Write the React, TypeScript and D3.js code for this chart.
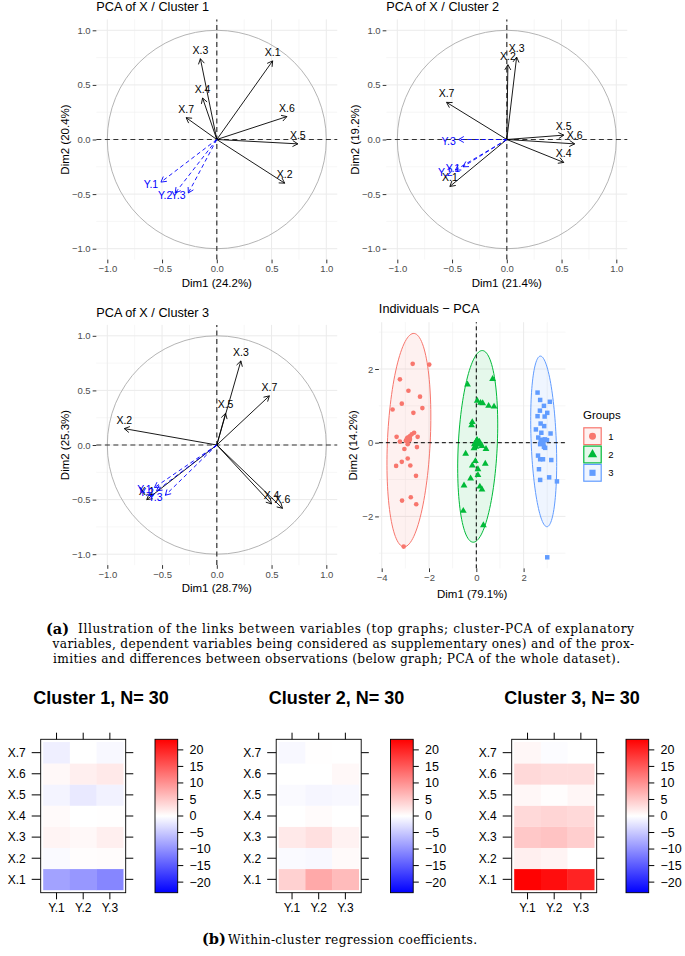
import React, { useEffect, useRef } from 'react';
import * as d3 from 'd3';

const W = 685;
const H = 956;
const SANS = 'Liberation Sans, Arial, Helvetica, sans-serif';
const SERIF = 'DejaVu Serif, Liberation Serif, serif';

const groupColors = ['#F8766D', '#00BA38', '#619CFF'];
const groupLabels = ['1', '2', '3'];

// variable loadings read from the correlation circles
const cluster1Active = [
  { name: 'X.1', x: 0.51, y: 0.72 },
  { name: 'X.2', x: 0.62, y: -0.4 },
  { name: 'X.3', x: -0.15, y: 0.74 },
  { name: 'X.4', x: -0.13, y: 0.38 },
  { name: 'X.5', x: 0.74, y: -0.04 },
  { name: 'X.6', x: 0.64, y: 0.21 },
  { name: 'X.7', x: -0.28, y: 0.2 },
];
const cluster1Sup = [
  { name: 'Y.1', x: -0.51, y: -0.39 },
  { name: 'Y.2', x: -0.38, y: -0.49 },
  { name: 'Y.3', x: -0.26, y: -0.49 },
];
const cluster2Active = [
  { name: 'X.1', x: -0.52, y: -0.43 },
  { name: 'X.2', x: 0.01, y: 0.685 },
  { name: 'X.3', x: 0.09, y: 0.755 },
  { name: 'X.4', x: 0.52, y: -0.21 },
  { name: 'X.5', x: 0.52, y: 0.04 },
  { name: 'X.6', x: 0.62, y: -0.04 },
  { name: 'X.7', x: -0.55, y: 0.34 },
];
const cluster2Sup = [
  { name: 'Y.1', x: -0.4, y: -0.25 },
  { name: 'Y.2', x: -0.47, y: -0.28 },
  { name: 'Y.3', x: -0.44, y: 0.0 },
];
const cluster3Active = [
  { name: 'X.1', x: -0.64, y: -0.5 },
  { name: 'X.2', x: -0.845, y: 0.15 },
  { name: 'X.3', x: 0.22, y: 0.77 },
  { name: 'X.4', x: 0.5, y: -0.54 },
  { name: 'X.5', x: 0.08, y: 0.29 },
  { name: 'X.6', x: 0.6, y: -0.58 },
  { name: 'X.7', x: 0.48, y: 0.45 },
];
const cluster3Sup = [
  { name: 'Y.1', x: -0.57, y: -0.39 },
  { name: 'Y.2', x: -0.55, y: -0.42 },
  { name: 'Y.3', x: -0.47, y: -0.46 },
];

const varTicks = [-1, -0.5, 0, 0.5, 1];
const varMinor = [-0.75, -0.25, 0.25, 0.75];

// individuals (Dim1, Dim2)
const group1Points = [
  [-2.69, 2.14], [-1.99, 2.12], [-3.23, 1.72], [-2.87, 1.41], [-2.38, 1.25], [-3.15, 1.06],
  [-2.28, 0.94], [-2.66, 0.81], [-3.54, 0.9], [-3.37, 0.16], [-2.63, 0.27], [-2.73, 0.23],
  [-2.8, 0.18], [-2.87, 0.14], [-2.94, 0.09], [-2.48, 0.16], [-3.23, 0.03], [-2.9, -0.04],
  [-3.04, -0.17], [-2.51, -0.12], [-2.9, -0.43], [-3.15, -0.52], [-3.39, -0.63], [-2.79, -0.62],
  [-2.55, -0.9], [-3.14, -1.57], [-2.77, -1.48], [-2.54, -1.67], [-3.07, -2.82], [-2.98, 0.05],
];
const group2Points = [
  [-0.37, 1.58], [0.69, 1.73], [0.04, 1.14], [0.27, 1.07], [0.52, 1.0], [0.75, 0.98],
  [-0.17, 0.56], [-0.2, 0.47], [0.01, 0.04], [-0.07, -0.04], [0.13, -0.05], [0.24, -0.09],
  [0.41, -0.17], [-0.01, -0.11], [-0.45, -0.3], [-0.04, -0.5], [0.38, -0.57], [-0.17, -0.62],
  [0.07, -0.72], [0.07, -0.88], [-0.24, -0.97], [-0.52, -1.16], [0.15, -1.19], [0.24, -1.27],
  [-0.55, -1.85], [0.3, -2.24], [0.04, 0.07], [0.13, 0.03], [-0.1, -0.15], [0.18, 1.08],
];
const group3Points = [
  [2.59, 1.36], [2.7, 1.16], [3.11, 1.11], [2.86, 1.0], [2.69, 0.87], [3.0, 0.81],
  [2.59, 0.72], [2.89, 0.71], [2.52, 0.36], [2.72, 0.52], [2.87, 0.45], [2.75, 0.27],
  [3.14, 0.25], [2.62, 0.14], [2.9, 0.09], [2.76, 0.0], [2.7, -0.04], [2.91, -0.14],
  [2.61, -0.35], [2.7, -0.45], [2.82, -0.45], [3.17, -0.47], [2.65, -0.72], [3.08, -0.94],
  [2.7, -1.01], [3.41, -1.05], [3.0, -3.11], [2.99, 0.07], [2.86, -0.11], [2.8, 0.08],
];
const groupCentroids = [[-2.87, 0.1], [0.02, 0.0], [2.78, 0.03]];
// ellipse: centre, half major axis vector, half minor axis vector (data units)
const groupEllipses = [
  { c: [-2.85, 0.07], a: [0.225, 2.895], b: [0.9, -0.07] },
  { c: [0.06, -0.1], a: [0.21, 2.6], b: [0.82, -0.066] },
  { c: [2.85, 0.035], a: [-0.145, 2.315], b: [0.53, 0.033] },
];
const indXTicks = [-4, -2, 0, 2];
const indXMinor = [-3, -1, 1, 3];
const indYTicks = [-2, 0, 2];
const indYMinor = [-3, -1, 1, 3];

// within-cluster regression coefficients, rows X.1..X.7, columns Y.1..Y.3
const coefRows = ['X.1', 'X.2', 'X.3', 'X.4', 'X.5', 'X.6', 'X.7'];
const coefCols = ['Y.1', 'Y.2', 'Y.3'];
const cluster1Coef = [
  [-8.5, -9.5, -11], [-0.5, 0.2, 0.3], [1, 0.6, 1.5], [0.5, 0, 0.1],
  [-1, -2, -1.2], [0.6, 1.5, 2], [-1.5, 0, -0.6],
];
const cluster2Coef = [
  [4.2, 7.8, 6.2], [-0.5, -0.6, 0.5], [2, 2.8, 1.2], [0, 0.4, 0],
  [-0.5, -0.8, -0.6], [0, 0, 0.6], [-0.6, 0.1, 0],
];
const cluster3Coef = [
  [23, 22, 20], [1.5, 1, 0], [5, 5.5, 4.5], [3.5, 3.8, 3.5],
  [0.7, 0.2, 0.8], [3.5, 3.1, 3.1], [0.7, -0.3, 0],
];
const coefTitles = ['Cluster 1, N= 30', 'Cluster 2, N= 30', 'Cluster 3, N= 30'];
const keyTicks = [20, 15, 10, 5, 0, -5, -10, -15, -20];

const captionA = [
  'Illustration of the links between variables (top graphs; cluster-PCA of explanatory',
  'variables, dependent variables being considered as supplementary ones) and of the prox-',
  'imities and differences between observations (below graph; PCA of the whole dataset).',
];
const captionB = 'Within-cluster regression coefficients.';

type Sel = d3.Selection<any, unknown, null, undefined>;

function drawArrow(g: Sel, x1: number, y1: number, x2: number, y2: number, color: string, dash?: string) {
  g.append('line')
    .attr('x1', x1).attr('y1', y1).attr('x2', x2).attr('y2', y2)
    .attr('stroke', color).attr('stroke-width', 0.9)
    .attr('stroke-dasharray', dash || null);
  const ang = Math.atan2(y2 - y1, x2 - x1);
  [-1, 1].forEach((s) => {
    const a = ang + Math.PI + (s * Math.PI) / 6;
    g.append('line')
      .attr('x1', x2).attr('y1', y2)
      .attr('x2', x2 + 6 * Math.cos(a)).attr('y2', y2 + 6 * Math.sin(a))
      .attr('stroke', color).attr('stroke-width', 0.9);
  });
}

function styleAxis(ax: Sel, fs: number) {
  ax.select('.domain').remove();
  ax.selectAll('.tick line').attr('stroke', '#333');
  ax.selectAll('.tick text')
    .attr('fill', '#4D4D4D')
    .style('font-size', `${fs}px`)
    .style('font-family', SANS);
}

function drawVarPanel(svg: Sel, dx: number, dy: number, title: string, xLab: string, yLab: string,
  active: typeof cluster1Active, sup: typeof cluster1Sup) {
  const x = d3.scaleLinear().domain([-1, 1]).range([107.3 + dx, 326.3 + dx]);
  const y = d3.scaleLinear().domain([-1, 1]).range([248.7 + dy, 30.3 + dy]);
  const lo = -1.1, hi = 1.1;
  const g = svg.append('g');

  varMinor.forEach((v) => {
    g.append('line').attr('x1', x(v)).attr('x2', x(v)).attr('y1', y(lo)).attr('y2', y(hi))
      .attr('stroke', '#F0F0F0').attr('stroke-width', 0.6);
    g.append('line').attr('x1', x(lo)).attr('x2', x(hi)).attr('y1', y(v)).attr('y2', y(v))
      .attr('stroke', '#F0F0F0').attr('stroke-width', 0.6);
  });
  varTicks.forEach((v) => {
    g.append('line').attr('x1', x(v)).attr('x2', x(v)).attr('y1', y(lo)).attr('y2', y(hi))
      .attr('stroke', '#EBEBEB').attr('stroke-width', 1);
    g.append('line').attr('x1', x(lo)).attr('x2', x(hi)).attr('y1', y(v)).attr('y2', y(v))
      .attr('stroke', '#EBEBEB').attr('stroke-width', 1);
  });

  g.append('ellipse')
    .attr('cx', x(0)).attr('cy', y(0))
    .attr('rx', x(1) - x(0)).attr('ry', y(0) - y(1))
    .attr('fill', 'none').attr('stroke', '#ABABAB').attr('stroke-width', 0.9);

  g.append('line').attr('x1', x(lo)).attr('x2', x(hi)).attr('y1', y(0)).attr('y2', y(0))
    .attr('stroke', '#333').attr('stroke-width', 1.2).attr('stroke-dasharray', '5,3.5');
  g.append('line').attr('x1', x(0)).attr('x2', x(0)).attr('y1', y(lo)).attr('y2', y(hi))
    .attr('stroke', '#333').attr('stroke-width', 1.2).attr('stroke-dasharray', '5,3.5');

  active.forEach((d) => drawArrow(g, x(0), y(0), x(d.x), y(d.y), '#000'));
  active.forEach((d) => {
    g.append('text').attr('x', x(d.x)).attr('y', y(d.y) - 5)
      .attr('text-anchor', 'middle').attr('fill', '#000')
      .style('font-size', '10.5px').style('font-family', SANS).text(d.name);
  });
  sup.forEach((d) => drawArrow(g, x(0), y(0), x(d.x), y(d.y), '#0000FF', '4,3'));
  sup.forEach((d) => {
    g.append('text').attr('x', x(d.x) - 10).attr('y', y(d.y) + 5.5)
      .attr('text-anchor', 'middle').attr('fill', '#0000FF')
      .style('font-size', '10.5px').style('font-family', SANS).text(d.name);
  });

  const ax = g.append('g').attr('transform', `translate(${x(lo)},0)`)
    .call(d3.axisLeft(y).tickValues(varTicks).tickFormat(d3.format('.1f')).tickSize(3.7).tickPadding(2));
  styleAxis(ax, 9.5);
  const bx = g.append('g').attr('transform', `translate(0,${y(lo)})`)
    .call(d3.axisBottom(x).tickValues(varTicks).tickFormat(d3.format('.1f')).tickSize(3.7).tickPadding(2));
  styleAxis(bx, 9.5);

  g.append('text').attr('x', x(lo)).attr('y', 11.3 + dy)
    .style('font-size', '12.7px').style('font-family', SANS).attr('fill', '#000').text(title);
  g.append('text').attr('x', x(0)).attr('y', 286.7 + dy).attr('text-anchor', 'middle')
    .style('font-size', '11.5px').style('font-family', SANS).attr('fill', '#000').text(xLab);
  g.append('text').attr('transform', `translate(${69 + dx},${y(0)}) rotate(-90)`).attr('text-anchor', 'middle')
    .style('font-size', '11.5px').style('font-family', SANS).attr('fill', '#000').text(yLab);
}

function drawIndPanel(svg: Sel) {
  const x = d3.scaleLinear().domain([0, 2]).range([476.3, 523.6]);
  const y = d3.scaleLinear().domain([0, 2]).range([442.7, 369]);
  const x0 = -4.12, x1 = 3.77, y0 = -3.41, y1 = 3.27;
  const g = svg.append('g');

  indXMinor.forEach((v) => g.append('line').attr('x1', x(v)).attr('x2', x(v)).attr('y1', y(y0)).attr('y2', y(y1))
    .attr('stroke', '#F0F0F0').attr('stroke-width', 0.6));
  indYMinor.forEach((v) => g.append('line').attr('x1', x(x0)).attr('x2', x(x1)).attr('y1', y(v)).attr('y2', y(v))
    .attr('stroke', '#F0F0F0').attr('stroke-width', 0.6));
  indXTicks.forEach((v) => g.append('line').attr('x1', x(v)).attr('x2', x(v)).attr('y1', y(y0)).attr('y2', y(y1))
    .attr('stroke', '#EBEBEB').attr('stroke-width', 1));
  indYTicks.forEach((v) => g.append('line').attr('x1', x(x0)).attr('x2', x(x1)).attr('y1', y(v)).attr('y2', y(v))
    .attr('stroke', '#EBEBEB').attr('stroke-width', 1));

  const ts = d3.range(0, 2 * Math.PI, Math.PI / 60);
  groupEllipses.forEach((e, i) => {
    const path = d3.line<number>()
      .x((t) => x(e.c[0] + e.a[0] * Math.sin(t) + e.b[0] * Math.cos(t)))
      .y((t) => y(e.c[1] + e.a[1] * Math.sin(t) + e.b[1] * Math.cos(t)))
      .curve(d3.curveLinearClosed);
    g.append('path').attr('d', path(ts))
      .attr('fill', groupColors[i]).attr('fill-opacity', 0.1)
      .attr('stroke', groupColors[i]).attr('stroke-width', 1);
  });

  g.append('line').attr('x1', x(x0)).attr('x2', x(x1)).attr('y1', y(0)).attr('y2', y(0))
    .attr('stroke', '#000').attr('stroke-width', 1).attr('stroke-dasharray', '4,3');
  g.append('line').attr('x1', x(0)).attr('x2', x(0)).attr('y1', y(y0)).attr('y2', y(y1))
    .attr('stroke', '#000').attr('stroke-width', 1).attr('stroke-dasharray', '4,3');

  const shapes = [d3.symbolCircle, d3.symbolTriangle, d3.symbolSquare];
  const sizes = [17, 20, 20];
  [group1Points, group2Points, group3Points].forEach((pts, i) => {
    g.selectAll(null).data(pts).enter().append('path')
      .attr('transform', (d) => `translate(${x(d[0])},${y(d[1])})`)
      .attr('d', d3.symbol().type(shapes[i]).size(sizes[i])())
      .attr('fill', groupColors[i]);
  });
  groupCentroids.forEach((d, i) => {
    g.append('path').attr('transform', `translate(${x(d[0])},${y(d[1])})`)
      .attr('d', d3.symbol().type(shapes[i]).size(sizes[i] * 2.6)())
      .attr('fill', groupColors[i]);
  });

  const ax = g.append('g').attr('transform', `translate(${x(x0)},0)`)
    .call(d3.axisLeft(y).tickValues(indYTicks).tickFormat(d3.format('d')).tickSize(3.7).tickPadding(2));
  styleAxis(ax, 9.5);
  const bx = g.append('g').attr('transform', `translate(0,${y(y0)})`)
    .call(d3.axisBottom(x).tickValues(indXTicks).tickFormat(d3.format('d')).tickSize(3.7).tickPadding(2));
  styleAxis(bx, 9.5);

  g.append('text').attr('x', x(x0)).attr('y', 312.5)
    .style('font-size', '12.7px').style('font-family', SANS).attr('fill', '#000').text('Individuals \u2212 PCA');
  g.append('text').attr('x', (x(x0) + x(x1)) / 2).attr('y', 598).attr('text-anchor', 'middle')
    .style('font-size', '11.5px').style('font-family', SANS).attr('fill', '#000').text('Dim1 (79.1%)');
  g.append('text').attr('transform', `translate(357.3,${(y(y0) + y(y1)) / 2}) rotate(-90)`).attr('text-anchor', 'middle')
    .style('font-size', '11.5px').style('font-family', SANS).attr('fill', '#000').text('Dim2 (14.2%)');

  // legend
  const lg = g.append('g');
  lg.append('text').attr('x', 583).attr('y', 419)
    .style('font-size', '11.5px').style('font-family', SANS).attr('fill', '#000').text('Groups');
  groupLabels.forEach((lab, i) => {
    const ky = 427.3 + i * 18.3;
    lg.append('rect').attr('x', 583.8).attr('y', ky + 0.5).attr('width', 17.4).attr('height', 16.8)
      .attr('fill', groupColors[i]).attr('fill-opacity', 0.1)
      .attr('stroke', groupColors[i]).attr('stroke-width', 1.2);
    lg.append('path').attr('transform', `translate(592.5,${ky + 8.9})`)
      .attr('d', d3.symbol().type(shapes[i]).size(38)())
      .attr('fill', groupColors[i]);
    lg.append('text').attr('x', 608.3).attr('y', ky + 12.3)
      .style('font-size', '9.5px').style('font-family', SANS).attr('fill', '#000').text(lab);
  });
}

function drawHeatmap(svg: Sel, idx: number, values: number[][], title: string) {
  const dx = idx * 235.5;
  const bl = 40.7 + dx, br = 125.7 + dx, bt = 739.3, bb = 892.7;
  const x = d3.scaleBand().domain(coefCols).range([bl + 2.5, br - 2.5]);
  const y = d3.scaleBand().domain([...coefRows].reverse()).range([bt + 2.8, bb - 2.8]);
  const color = d3.scaleLinear<string>().domain([-23.2, 0, 23.2]).range(['#0000FF', '#FFFFFF', '#FF0000']);
  const g = svg.append('g');

  coefRows.forEach((r, ri) => {
    coefCols.forEach((c, ci) => {
      g.append('rect').attr('x', x(c)!).attr('y', y(r)!)
        .attr('width', x.bandwidth() + 0.3).attr('height', y.bandwidth() + 0.3)
        .attr('fill', color(values[ri][ci]));
    });
  });
  g.append('rect').attr('x', bl).attr('y', bt).attr('width', br - bl).attr('height', bb - bt)
    .attr('fill', 'none').attr('stroke', '#000').attr('stroke-width', 0.9);

  coefRows.forEach((r) => {
    const cy = y(r)! + y.bandwidth() / 2;
    g.append('line').attr('x1', bl - 9).attr('x2', bl).attr('y1', cy).attr('y2', cy).attr('stroke', '#000');
    g.append('line').attr('x1', br).attr('x2', br + 7.6).attr('y1', cy).attr('y2', cy).attr('stroke', '#000');
    g.append('text').attr('x', bl - 15).attr('y', cy + 4.3).attr('text-anchor', 'end')
      .style('font-size', '12px').style('font-family', SANS).attr('fill', '#000').text(r);
  });
  coefCols.forEach((c) => {
    const cx = x(c)! + x.bandwidth() / 2;
    g.append('line').attr('x1', cx).attr('x2', cx).attr('y1', bt - 6.6).attr('y2', bt).attr('stroke', '#000');
    g.append('line').attr('x1', cx).attr('x2', cx).attr('y1', bb).attr('y2', bb + 6.6).attr('stroke', '#000');
    g.append('text').attr('x', cx).attr('y', 912).attr('text-anchor', 'middle')
      .style('font-size', '12px').style('font-family', SANS).attr('fill', '#000').text(c);
  });

  // colour key
  const kx = 155 + dx, kw = 22.7;
  const ky = d3.scaleLinear().domain([-23.2, 23.2]).range([bb, bt]);
  g.append('rect').attr('x', kx).attr('y', bt).attr('width', kw).attr('height', bb - bt)
    .attr('fill', 'url(#keyGrad)').attr('stroke', '#000').attr('stroke-width', 0.9);
  keyTicks.forEach((v) => {
    g.append('line').attr('x1', kx + kw).attr('x2', kx + kw + 5.6).attr('y1', ky(v)).attr('y2', ky(v)).attr('stroke', '#000');
    g.append('text').attr('x', kx + kw + 11.8).attr('y', ky(v) + 4.4)
      .style('font-size', '12.5px').style('font-family', SANS).attr('fill', '#000')
      .text(d3.format('d')(v));
  });

  g.append('text').attr('x', 101 + dx).attr('y', 703.5).attr('text-anchor', 'middle')
    .style('font-size', '18px').style('font-weight', 'bold').style('font-family', SANS)
    .attr('fill', '#000').text(title);
}

export default function App() {
  const ref = useRef<SVGSVGElement>(null);

  useEffect(() => {
    const svg = d3.select(ref.current) as unknown as Sel;
    svg.selectAll('*').remove();

    const grad = svg.append('defs').append('linearGradient')
      .attr('id', 'keyGrad').attr('x1', 0).attr('x2', 0).attr('y1', 0).attr('y2', 1);
    grad.append('stop').attr('offset', '0%').attr('stop-color', '#FF0000');
    grad.append('stop').attr('offset', '50%').attr('stop-color', '#FFFFFF');
    grad.append('stop').attr('offset', '100%').attr('stop-color', '#0000FF');

    drawVarPanel(svg, 0, 0, 'PCA of X / Cluster 1', 'Dim1 (24.2%)', 'Dim2 (20.4%)', cluster1Active, cluster1Sup);
    drawVarPanel(svg, 290, 0, 'PCA of X / Cluster 2', 'Dim1 (21.4%)', 'Dim2 (19.2%)', cluster2Active, cluster2Sup);
    drawVarPanel(svg, 0, 305.5, 'PCA of X / Cluster 3', 'Dim1 (28.7%)', 'Dim2 (25.3%)', cluster3Active, cluster3Sup);
    drawIndPanel(svg);

    // caption (a)
    svg.append('text').attr('x', 46).attr('y', 634)
      .style('font-family', SERIF).style('font-size', '14.5px').style('font-weight', 'bold').text('(a)');
    const lineX = [78, 52.6, 53];
    const lineEnd = [634, 634, 620];
    const lineY = [633, 648, 663];
    captionA.forEach((t, i) => {
      svg.append('text').attr('x', lineX[i]).attr('y', lineY[i])
        .attr('textLength', lineEnd[i] - lineX[i]).attr('lengthAdjust', 'spacing')
        .style('font-family', SERIF).style('font-size', '12.2px').text(t);
    });

    drawHeatmap(svg, 0, cluster1Coef, coefTitles[0]);
    drawHeatmap(svg, 1, cluster2Coef, coefTitles[1]);
    drawHeatmap(svg, 2, cluster3Coef, coefTitles[2]);

    // caption (b)
    svg.append('text').attr('x', 202).attr('y', 944)
      .style('font-family', SERIF).style('font-size', '14.5px').style('font-weight', 'bold').text('(b)');
    svg.append('text').attr('x', 228).attr('y', 944)
      .attr('textLength', 249).attr('lengthAdjust', 'spacing')
      .style('font-family', SERIF).style('font-size', '12.2px').text(captionB);
  }, []);

  return (
    <svg ref={ref} width={W} height={H}
      style={{ position: 'absolute', left: 0, top: 0, background: '#fff' }} />
  );
}
